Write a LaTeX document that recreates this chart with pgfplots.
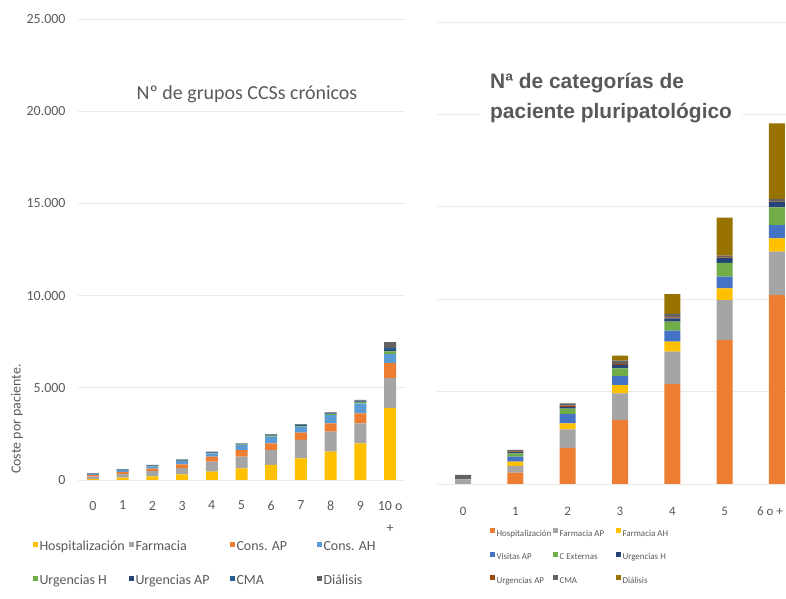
\documentclass[border=0pt]{standalone}
\usepackage{pgfplots}
\pgfplotsset{compat=1.18}
\usepackage{fontspec}
\setmainfont{Carlito}
\newfontfamily\arialfont{Liberation Sans}
\definecolor{cyel}{HTML}{FFC000}
\definecolor{cgry}{HTML}{A5A5A5}
\definecolor{cora}{HTML}{ED7D31}
\definecolor{clbl}{HTML}{5B9BD5}
\definecolor{cgrn}{HTML}{70AD47}
\definecolor{cnav}{HTML}{264478}
\definecolor{cmbl}{HTML}{255E91}
\definecolor{cdgr}{HTML}{636363}
\definecolor{cblu}{HTML}{4472C4}
\definecolor{cbrn}{HTML}{9E480E}
\definecolor{coli}{HTML}{997300}
\definecolor{gridc}{HTML}{EBEBEB}
\definecolor{txtc}{HTML}{595959}
\pgfplotsset{
  common/.style={
    scale only axis, anchor=south west, ybar stacked, ymin=0, ymax=25000,
    ytick={0,5000,10000,15000,20000,25000}, scaled y ticks=false,
    axis line style={draw=none}, tick style={draw=none}, major tick length=0pt,
    ymajorgrids, grid style={color=gridc, line width=0.8bp},
    /pgf/number format/assume math mode=true,
    legend cell align=left,
    legend image code/.code={\fill[##1] (0bp,0.5bp) rectangle (5bp,5.5bp);},
  },
}
\begin{document}
\begin{tikzpicture}
\path[use as bounding box] (0,0) rectangle (786bp,599bp);
% ---------------- left chart ----------------
\begin{axis}[common,
  at={(78bp,119bp)}, width=327bp, height=461bp,
  bar width=12bp, xmin=-0.5, xmax=10.5,
  xtick={0,1,2,3,4,5,6,7,8,9,10},
  xticklabels={0,1,2,3,4,5,6,7,8,9,{10 o\\+}},
  yticklabels={0,5.000,10.000,15.000,20.000,25.000},
  ticklabel style={font=\fontsize{14}{23}\selectfont, text=txtc},
  xticklabel style={align=center, yshift=-17.5bp},
  yticklabel style={xshift=-9bp},
  legend columns=4,
  legend style={draw=none, fill=none, anchor=north west,
    at={(axis description cs:-0.1376,-0.127)},
    inner sep=0pt, outer sep=0pt, column sep=0pt, row sep=17bp,
    nodes={inner xsep=1.5bp, inner ysep=2bp, text height=10bp, text depth=3bp,
      font=\fontsize{14}{16}\selectfont, text=txtc}},
]
\addplot[fill=cyel, draw=none] coordinates {(0,50) (1,130) (2,200) (3,300) (4,450) (5,635) (6,815) (7,1175) (8,1535) (9,1990) (10,3900)};
\addlegendentry{\makebox[88bp][l]{Hospitalización}}
\addplot[fill=cgry, draw=none] coordinates {(0,130) (1,200) (2,280) (3,350) (4,540) (5,630) (6,810) (7,995) (8,1085) (9,1080) (10,1630)};
\addlegendentry{\makebox[93bp][l]{Farmacia}}
\addplot[fill=cora, draw=none] coordinates {(0,80) (1,110) (2,140) (3,200) (4,275) (5,360) (6,365) (7,395) (8,450) (9,545) (10,810)};
\addlegendentry{\makebox[79bp][l]{Cons. AP}}
\addplot[fill=clbl, draw=none] coordinates {(0,60) (1,90) (2,120) (3,170) (4,180) (5,275) (6,360) (7,325) (8,450) (9,545) (10,490)};
\addlegendentry{Cons. AH}
\addplot[fill=cgrn, draw=none] coordinates {(0,10) (1,15) (2,25) (3,35) (4,30) (5,30) (6,50) (7,50) (8,50) (9,60) (10,150)};
\addlegendentry{\makebox[88bp][l]{Urgencias H}}
\addplot[fill=cnav, draw=none] coordinates {(0,10) (1,10) (2,15) (3,20) (4,20) (5,20) (6,30) (7,30) (8,30) (9,40) (10,80)};
\addlegendentry{\makebox[93bp][l]{Urgencias AP}}
\addplot[fill=cmbl, draw=none] coordinates {(0,10) (1,15) (2,20) (3,25) (4,20) (5,20) (6,30) (7,35) (8,40) (9,50) (10,100)};
\addlegendentry{\makebox[79bp][l]{CMA}}
\addplot[fill=cdgr, draw=none] coordinates {(0,10) (1,10) (2,15) (3,20) (4,20) (5,20) (6,30) (7,30) (8,30) (9,30) (10,320)};
\addlegendentry{Diálisis}
\end{axis}
% ---------------- right chart ----------------
\begin{axis}[common,
  at={(437bp,115bp)}, width=366bp, height=462bp,
  bar width=16bp, xmin=-0.5, xmax=6.5,
  xtick={0,1,2,3,4,5,6},
  xticklabels={0,1,2,3,4,5,{\makebox[12bp][r]{6 o +}}},
  yticklabels={},
  ticklabel style={font=\fontsize{13}{16}\selectfont, text=txtc},
  xticklabel style={yshift=-19.5bp},
  legend columns=3,
  legend style={draw=none, fill=none, anchor=north west,
    at={(axis description cs:0.1448,-0.0942)},
    inner sep=0pt, outer sep=0pt, column sep=0pt, row sep=11.5bp,
    nodes={inner xsep=1.5bp, inner ysep=1.5bp, text height=7bp, text depth=2bp,
      font=\fontsize{9}{11}\selectfont, text=txtc}},
]
\addplot[fill=cora, draw=none] coordinates {(0,0) (1,610) (2,1950) (3,3460) (4,5410) (5,7790) (6,10225)};
\addlegendentry{\makebox[55bp][l]{Hospitalización}}
\addplot[fill=cgry, draw=none] coordinates {(0,250) (1,365) (2,1000) (3,1445) (4,1750) (5,2165) (6,2345)};
\addlegendentry{\makebox[55bp][l]{Farmacia AP}}
\addplot[fill=cyel, draw=none] coordinates {(0,0) (1,230) (2,330) (3,450) (4,540) (5,635) (6,720)};
\addlegendentry{Farmacia AH}
\addplot[fill=cblu, draw=none] coordinates {(0,0) (1,275) (2,500) (3,485) (4,595) (5,625) (6,720)};
\addlegendentry{\makebox[55bp][l]{Visitas AP}}
\addplot[fill=cgrn, draw=none] coordinates {(0,0) (1,180) (2,300) (3,420) (4,485) (5,755) (6,960)};
\addlegendentry{\makebox[55bp][l]{C Externas}}
\addplot[fill=cnav, draw=none] coordinates {(0,0) (1,60) (2,100) (3,180) (4,180) (5,250) (6,305)};
\addlegendentry{Urgencias H}
\addplot[fill=cbrn, draw=none] coordinates {(0,0) (1,40) (2,60) (3,60) (4,60) (5,40) (6,50)};
\addlegendentry{\makebox[55bp][l]{Urgencias AP}}
\addplot[fill=cdgr, draw=none] coordinates {(0,240) (1,80) (2,125) (3,170) (4,180) (5,100) (6,100)};
\addlegendentry{\makebox[55bp][l]{CMA}}
\addplot[fill=coli, draw=none] coordinates {(0,0) (1,0) (2,0) (3,270) (4,1080) (5,2050) (6,4090)};
\addlegendentry{Diálisis}
\end{axis}
% titles and axis label
\node[font=\fontsize{20}{24}\selectfont, text=txtc] at (247bp,505bp) {Nº de grupos CCSs crónicos};
\node[anchor=west, align=left, fill=white, inner xsep=10bp, inner ysep=3bp,
  font=\arialfont\bfseries\fontsize{21}{30}\selectfont, text=txtc] at (480bp,501bp)
  {Nª de categorías de\\paciente pluripatológico};
\node[rotate=90, font=\fontsize{14}{16}\selectfont, text=txtc] at (17bp,180bp) {Coste por paciente.};
\end{tikzpicture}
\end{document}
